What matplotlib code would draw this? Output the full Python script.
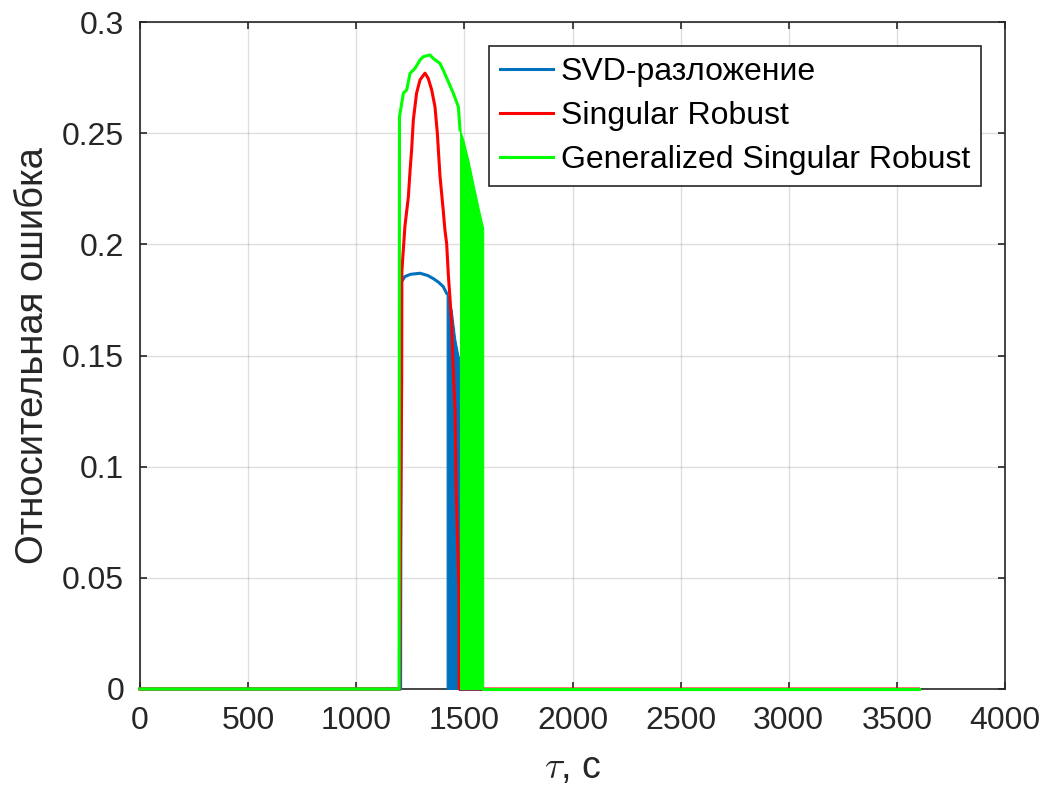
import matplotlib
matplotlib.use("Agg")
import matplotlib.pyplot as plt

plt.rcParams['font.family'] = ['Liberation Sans', 'DejaVu Sans']
plt.rcParams['mathtext.fontset'] = 'cm'

# ---- data ----
# SVD decomposition (blue)
svd_t = [0, 1200, 1205, 1208, 1225, 1250, 1295, 1330, 1356, 1380, 1402, 1418]
svd_v = [0, 0, 0, 0.183, 0.1855, 0.1865, 0.187, 0.186, 0.1846, 0.183, 0.181, 0.178]
svd_band_t = [1418, 1426, 1441, 1457, 1472, 1480]
svd_band_top = [0.178, 0.1765, 0.1705, 0.1577, 0.150, 0.148]
svd_tail_t = [1480, 3600]
svd_tail_v = [0, 0]

# Singular Robust (red)
sr_t = [0, 1200, 1210, 1211, 1225, 1241, 1249, 1256, 1264, 1279, 1295, 1318, 1333,
        1349, 1364, 1375, 1387, 1402, 1410, 1418, 1426, 1434, 1441, 1449, 1457,
        1461, 1466, 1471, 1475, 1476, 3600]
sr_v = [0, 0, 0.137, 0.188, 0.208, 0.2214, 0.2334, 0.2424, 0.256, 0.268, 0.274, 0.277,
        0.2746, 0.2694, 0.2619, 0.250, 0.231, 0.2155, 0.2065, 0.2004, 0.186, 0.175,
        0.1644, 0.142, 0.125, 0.094, 0.075, 0.058, 0.0454, 0, 0]

# Generalized Singular Robust (green)
gsr_t = [0, 1198, 1200, 1218, 1233, 1249, 1272, 1295, 1310, 1341, 1356, 1387, 1402,
         1426, 1449, 1472, 1480]
gsr_v = [0, 0, 0.2574, 0.268, 0.2694, 0.2769, 0.2792, 0.2829, 0.2844, 0.2852, 0.2836,
         0.2814, 0.2784, 0.2731, 0.2679, 0.2619, 0.2514]
gsr_band_t = [1480, 1495, 1518, 1541, 1564, 1587]
gsr_band_top = [0.2514, 0.247, 0.238, 0.2274, 0.217, 0.2072]
gsr_tail_t = [1587, 3600]
gsr_tail_v = [0, 0]

labels = ['SVD-разложение', 'Singular Robust', 'Generalized Singular Robust']
xticks = [0, 500, 1000, 1500, 2000, 2500, 3000, 3500, 4000]
yticks = [0, 0.05, 0.1, 0.15, 0.2, 0.25, 0.3]
ytick_labels = ['0', '0.05', '0.1', '0.15', '0.2', '0.25', '0.3']

C_BLUE = '#0072BD'
C_RED = '#FF0000'
C_GREEN = '#00FF00'
AX_C = '#262626'
LW = 2.2
FS = 23

fig = plt.figure(figsize=(10.49, 7.96), dpi=100)
ax = fig.add_axes([140/1049, 1-689/796, 865/1049, 667/796])

# blue
ax.plot(svd_t, svd_v, color=C_BLUE, lw=LW, label=labels[0], clip_on=False, zorder=3)
ax.fill_between(svd_band_t, 0, svd_band_top, color=C_BLUE, lw=0.8, edgecolor=C_BLUE, zorder=3)
ax.plot(svd_tail_t, svd_tail_v, color=C_BLUE, lw=LW, clip_on=False, zorder=3)
# red
ax.plot(sr_t, sr_v, color=C_RED, lw=LW, label=labels[1], clip_on=False, zorder=4)
# green
ax.plot(gsr_t, gsr_v, color=C_GREEN, lw=LW, label=labels[2], clip_on=False, zorder=5)
ax.fill_between(gsr_band_t, 0, gsr_band_top, color=C_GREEN, lw=0.8, edgecolor=C_GREEN, zorder=5)
ax.plot(gsr_tail_t, gsr_tail_v, color=C_GREEN, lw=LW, clip_on=False, zorder=5)

ax.set_xlim(0, 4000)
ax.set_ylim(0, 0.3)
ax.set_xticks(xticks)
ax.set_yticks(yticks)
ax.set_yticklabels(ytick_labels)
ax.grid(True, color=AX_C, alpha=0.15, lw=1)
ax.set_axisbelow(True)
for s in ax.spines.values():
    s.set_color(AX_C)
    s.set_linewidth(1.2)
ax.tick_params(direction='in', length=5, width=1.2, colors=AX_C, labelsize=FS,
               top=True, right=True)
ax.tick_params(axis='x', pad=12)
ax.tick_params(axis='y', pad=11.5)
for lab in ax.get_xticklabels() + ax.get_yticklabels():
    lab.set_color(AX_C)

ax.set_xlabel(r'$\tau$, с', fontsize=27, color=AX_C, labelpad=10)
ax.set_ylabel('Относительная ошибка', fontsize=27.5, color=AX_C, labelpad=8)

leg = ax.legend(loc='upper right', bbox_to_anchor=((981-140)/865, (689-46)/667),
                borderaxespad=0, fontsize=FS, fancybox=False, framealpha=1,
                edgecolor=AX_C, handlelength=1.65, handletextpad=0.25,
                labelspacing=0.44, borderpad=0.35)
leg.get_frame().set_linewidth(1.2)
for t in leg.get_texts():
    t.set_color('#000000')

fig.savefig('out.png', dpi=100)
